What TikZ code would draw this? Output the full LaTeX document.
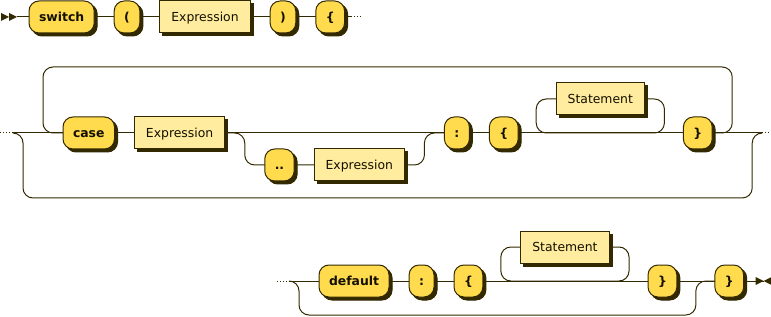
\documentclass[tikz,border=0pt]{standalone}
\usepackage{fontspec}
\setmainfont{DejaVu Sans}
\usepackage{xcolor}
\definecolor{cLine}{HTML}{332900}
\definecolor{cTerm}{HTML}{FFDB4D}
\definecolor{cNonTerm}{HTML}{FFEC9E}
\definecolor{cText}{HTML}{141000}
\usepackage{tikz}
\usetikzlibrary{positioning,calc,shadows,backgrounds}
\tikzset{
  node-term/.style={draw=cLine,fill=cTerm,line width=0.75pt,rounded corners=7.5pt,
    minimum height=24pt,inner xsep=7.5pt,inner ysep=0pt,outer sep=0pt,
    text height=6.9pt,text depth=0.8pt,text=cText,
    font=\fontsize{9.3}{11}\selectfont\bfseries,
    copy shadow={shadow xshift=2.25pt,shadow yshift=-2.25pt,draw=cLine,fill=cLine}},
  node-nt/.style={draw=cLine,fill=cNonTerm,line width=0.75pt,
    minimum height=24pt,inner xsep=8.6pt,inner ysep=0pt,outer sep=0pt,
    text height=6.9pt,text depth=0.8pt,text=cText,
    font=\fontsize{9.3}{11}\selectfont,
    copy shadow={shadow xshift=2.25pt,shadow yshift=-2.25pt,draw=cLine,fill=cLine}},
  % rails: 1px lines, 10px bends
  rail/.style={draw=cLine,line width=0.75pt,rounded corners=7.5pt},
  rail-dot/.style={draw=cLine,line width=0.75pt,dash pattern=on 0.75pt off 1.5pt},
  rail-end/.style={fill=cLine},
}

\begin{document}
\begin{tikzpicture}[x=0.75pt,y=-0.75pt,node distance=15pt]
  \useasboundingbox (0,0) rectangle (771,317);

  % row 1
  \coordinate (go) at (17,17);
  \node[node-term,anchor=west] (sw) at (29,17) {switch};
  \node[node-term,right=of sw] (lp) {(};
  \node[node-nt,right=of lp] (ex1) {Expression};
  \node[node-term,right=of ex1] (rp) {)};
  \node[node-term,right=of rp] (lb1) {\{};
  \coordinate (cont1) at ($(lb1.east)+(6,0)$);
  \coordinate (cont1b) at ($(lb1.east)+(16,0)$);

  % row 2
  \coordinate (in2a) at (0,133);
  \coordinate (in2) at (13,133);
  \node[node-term,anchor=west] (case) at (63,133) {case};
  \node[node-nt,right=of case] (ex2) {Expression};
  \node[node-term,right=30pt of ex2,yshift=-24pt] (range) {..};
  \node[node-nt,right=of range] (ex3) {Expression};
  \node[node-term,right=30pt of ex3,yshift=24pt] (col1) {:};
  \node[node-term,right=of col1] (lb2) {\{};
  \node[node-nt,right=28.5pt of lb2,yshift=25.5pt] (st1) {Statement};
  \node[node-term,right=29.25pt of st1,yshift=-25.5pt] (rb1) {\}};
  \coordinate (b1) at ($(ex2.east)!.5!(range.west |- ex2.east)$);
  \coordinate (b2) at ($(ex3.east)!.5!(col1.west |- ex3.east)$);
  \coordinate (s1l) at ($(st1.west |- lb2)+(-20,0)$);
  \coordinate (s1r) at ($(st1.east |- rb1)+(20,0)$);
  \coordinate (loopR) at ($(rb1.east)+(20,-66)$);
  \coordinate (loopL) at ($(case.west)+(-20,-66)$);
  \coordinate (byL) at ($(in2)+(10,65)$);
  \coordinate (byR) at ($(rb1.east)+(40,0)$);
  \coordinate (out2) at ($(rb1.east)+(50,0)$);
  \coordinate (out2b) at (771,133);

  % row 3
  \coordinate (in3a) at (277,281);
  \coordinate (in3) at (289,281);
  \node[node-term,anchor=west] (dflt) at (319,281) {default};
  \node[node-term,right=of dflt] (col2) {:};
  \node[node-term,right=of col2] (lb3) {\{};
  \node[node-nt,right=28.5pt of lb3,yshift=25.5pt] (st2) {Statement};
  \node[node-term,right=29.25pt of st2,yshift=-25.5pt] (rb2) {\}};
  \node[node-term,right=28.5pt of rb2] (rb3) {\}};
  \coordinate (s2l) at ($(st2.west |- lb3)+(-20,0)$);
  \coordinate (s2r) at ($(st2.east |- rb2)+(20,0)$);
  \coordinate (byL3) at ($(in3)+(10,34)$);
  \coordinate (byR3) at ($(rb2.east)!.5!(rb3.west)$);
  \coordinate (stop) at ($(rb3.east)+(20,0)$);

  \begin{scope}[on background layer]
    \draw[rail] (go) -- (sw) -- (lp) -- (ex1) -- (rp) -- (lb1) -- (cont1);
    \draw[rail-dot] (cont1) -- (cont1b);

    \draw[rail-dot] (in2a) -- (in2);
    \draw[rail] (in2) -- (case) -- (ex2) -- (col1) -- (lb2) -- (rb1) -- (out2);
    \draw[rail] (ex2) -| (b1 |- range) -- (range) -- (ex3) -| (b2 |- col1) -- (col1);
    \draw[rail] (st1.west) -| (s1l) -- (s1r) |- (st1.east);
    \draw[rail] (rb1) -| (loopR) -- (loopL) |- (case);
    \draw[rail] (in2) -| (byL) -| (byR) -- (out2);
    \draw[rail-dot] (out2) -- (out2b);

    \draw[rail-dot] (in3a) -- (in3);
    \draw[rail] (in3) -- (dflt) -- (col2) -- (lb3) -- (rb2) -- (rb3) -- (stop);
    \draw[rail] (st2.west) -| (s2l) -- (s2r) |- (st2.east);
    \draw[rail] (in3) -| (byL3) -| (byR3) -- (rb3);
  \end{scope}

  \fill[rail-end] (go) -- ++(-8,-4) -- ++(0,8) -- cycle;
  \fill[rail-end] ($(go)+(-8,0)$) -- ++(-8,-4) -- ++(0,8) -- cycle;
  \fill[rail-end] (stop) -- ++(-8,-4) -- ++(0,8) -- cycle;
  \fill[rail-end] (stop) -- ++(8,-4) -- ++(0,8) -- cycle;
\end{tikzpicture}
\end{document}
